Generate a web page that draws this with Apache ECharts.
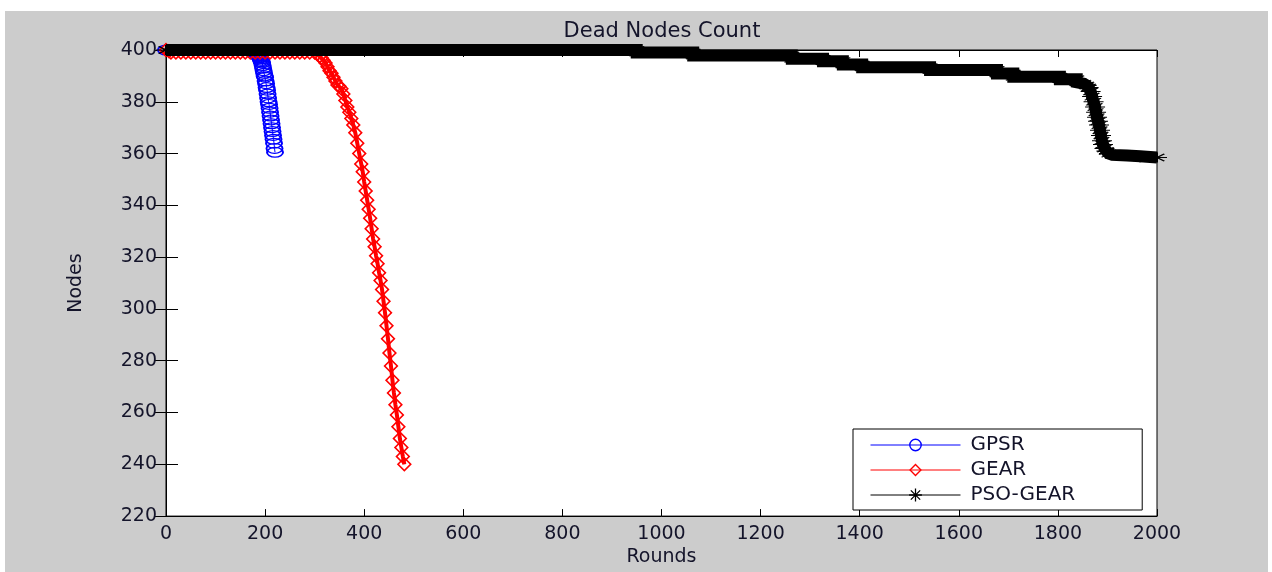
<!DOCTYPE html>
<html>
<head>
<meta charset="utf-8">
<script src="https://cdn.jsdelivr.net/npm/echarts@6/dist/echarts.min.js"></script>
<style>
  html, body { margin: 0; padding: 0; background: #fff; }
  .frame { position: absolute; left: 5px; top: 11px; right: 4px; bottom: 0; background: #cccccc; }
  #chart { position: absolute; left: 0; top: 0; width: 1272px; height: 572px; }
</style>
</head>
<body>
<div class="frame"></div>
<div id="chart"></div>
<script>
// tick labels
const xTicks = [0, 200, 400, 600, 800, 1000, 1200, 1400, 1600, 1800, 2000]
const yTicks = [220, 240, 260, 280, 300, 320, 340, 360, 380, 400]

// GPSR (blue circles)
const gpsrRounds = [0, 40, 80, 120, 160, 176, 182, 184, 185, 186, 187, 188, 189, 190, 191, 192, 193, 194, 195, 196, 197, 198, 199, 200,
  201, 202, 203, 204, 205, 206, 207, 208, 209, 210, 211, 212, 213, 214, 215, 216, 217, 218, 219, 220]
const gpsrNodes = [400, 400, 400, 400, 400, 399, 398.7, 398.5, 398.3, 398, 397.8, 397.5, 397.2, 397, 396.5, 396, 395.5, 395, 394, 393, 392, 391, 390, 389.5,
  388, 387, 385.5, 384.5, 383, 381.5, 380, 379, 377.5, 376, 374.5, 373, 371.5, 370, 368.5, 367, 365.5, 364, 362, 360.5]

// GEAR (red diamonds)
const gearRounds = [0, 6, 10, 20, 30, 40, 50, 60, 70, 80, 90, 100, 110, 120, 130, 140, 150, 160, 170, 180, 190, 200,
  210, 220, 230, 240, 250, 260, 270, 280, 290, 300, 305, 310, 314, 318, 322, 326, 330, 334, 338, 342, 346, 350, 354,
  358, 362, 366, 370, 374, 378, 382, 386, 390, 394, 397, 400, 403, 406, 409, 412, 415, 418, 421, 424, 427, 430, 433,
  436, 439, 442, 445, 448, 451, 454, 457, 460, 463, 466, 469, 472, 475, 478, 481]
const gearNodes = [400, 399.5, 399, 399, 399, 399, 399, 399, 399, 399, 399, 399, 399, 399, 399, 399, 399, 399, 399, 399, 399, 399,
  399, 399, 399, 399, 399, 399, 399, 399, 399, 399, 398.5, 397.5, 397, 396, 395, 393.5, 392, 391, 389.5, 388, 386.5, 386, 385,
  383, 380.5, 378, 376, 373.5, 371, 368, 364, 360, 356, 353, 349, 345.5, 342, 338.5, 335, 331, 327, 324, 320.5, 317.5, 314, 311,
  307.5, 303, 298.5, 293.5, 288.5, 283, 278, 272.5, 267.5, 263, 259, 254.5, 250, 246.5, 243, 240]

// PSO-GEAR (black asterisks)
const psoRounds = [0, 950, 950, 1064, 1064, 1263, 1263, 1326, 1326, 1366, 1366, 1405, 1405, 1542, 1542, 1677, 1677, 1710, 1710,
  1804, 1804, 1838, 1838, 1852, 1858, 1862, 1866, 1869, 1872, 1875, 1877, 1879, 1881, 1883, 1885, 1887, 1889, 1891, 1894,
  1898, 1903, 1910, 1940, 1966, 1966, 2000]
const psoNodes = [400, 400, 399, 399, 397.9, 397.9, 396.6, 396.6, 395.7, 395.7, 394.4, 394.4, 393.3, 393.3, 392.3, 392.3, 390.9, 390.9, 389.7,
  389.7, 388.7, 388.7, 387.5, 387, 386.3, 385.5, 384, 382, 380, 378, 376, 374, 372.5, 371, 369, 367, 365, 363.5, 362,
  361, 360, 359.5, 359.3, 359, 358.6, 358.5]

const font = 'DejaVu Sans'
const txt = '#14142a'

// hollow marker shapes (rings, so overlapping marks show through)
const ringCircle = 'path://M0,5 A5,5 0 1,1 10,5 A5,5 0 1,1 0,5 Z M1.1,5 A3.9,3.9 0 1,0 8.9,5 A3.9,3.9 0 1,0 1.1,5 Z'
const ringDiamond = 'path://M5,0 L10,5 L5,10 L0,5 Z M5,1.5 L1.5,5 L5,8.5 L8.5,5 Z'
const asterisk = 'path://M0,4.5 L10,4.5 L10,5.5 L0,5.5 Z M4.5,0 L5.5,0 L5.5,10 L4.5,10 Z M1,1.7 L1.7,1 L9,8.3 L8.3,9 Z M1,8.3 L8.3,1 L9,1.7 L1.7,9 Z'

function pairs(xs, ys) {
  return xs.map((x, i) => [x, ys[i]])
}

let chart = echarts.init(document.getElementById('chart'))

let axisCommon = {
  axisLine: { show: true, lineStyle: { color: '#000', width: 1 } },
  splitLine: { show: false },
}

let option = {
  animation: false,
  backgroundColor: 'transparent',
  title: {
    text: 'Dead Nodes Count',
    left: 657,
    top: 16,
    textAlign: 'center',
    textStyle: { fontFamily: font, fontSize: 21, fontWeight: 'normal', color: txt },
  },
  grid: {
    left: 166,
    top: 50,
    width: 991,
    height: 468,
    show: true,
    backgroundColor: '#fff',
    borderColor: '#000',
    borderWidth: 1,
  },
  legend: {
    orient: 'vertical',
    left: 853,
    top: 429,
    padding: [6, 67, 5, 17],
    itemWidth: 90,
    itemHeight: 16,
    itemGap: 5,
    backgroundColor: '#fff',
    borderColor: '#000',
    borderWidth: 1,
    borderRadius: 0,
    lineStyle: { width: 1 },
    formatter: (name) => '{t|' + name + '}',
    textStyle: {
      fontFamily: font,
      fontSize: 20,
      color: txt,
      rich: { t: { fontFamily: font, fontSize: 20, lineHeight: 22, color: txt, padding: [0, 0, 0, 5] } },
    },
    data: ['GPSR', 'GEAR', 'PSO-GEAR'],
  },
  xAxis: [
    {
      type: 'value',
      min: 0,
      max: 2000,
      interval: 200,
      ...axisCommon,
      axisTick: { show: true, inside: true, length: 7, lineStyle: { color: '#000' } },
      axisLabel: {
        margin: 8,
        fontFamily: font,
        fontSize: 19,
        color: txt,
        formatter: (v) => (xTicks.includes(v) ? String(v) : ''),
      },
      name: 'Rounds',
      nameLocation: 'middle',
      nameGap: 29,
      nameTextStyle: { fontFamily: font, fontSize: 19, color: txt },
    },
    {
      type: 'value',
      position: 'top',
      min: 0,
      max: 2000,
      interval: 200,
      ...axisCommon,
      axisTick: { show: true, inside: true, length: 7, lineStyle: { color: '#000' } },
      axisLabel: { show: false },
    },
  ],
  yAxis: [
    {
      type: 'value',
      min: 220,
      max: 400,
      interval: 20,
      ...axisCommon,
      axisTick: { show: true, inside: true, length: 12, lineStyle: { color: '#000' } },
      axisLabel: {
        margin: 9,
        fontFamily: font,
        fontSize: 19,
        color: txt,
        formatter: (v) => (yTicks.includes(v) ? String(v) : ''),
      },
      name: 'Nodes',
      nameLocation: 'middle',
      nameGap: 80,
      nameRotate: 90,
      nameTextStyle: { fontFamily: font, fontSize: 19, color: txt },
    },
    {
      type: 'value',
      position: 'right',
      min: 220,
      max: 400,
      interval: 20,
      ...axisCommon,
      axisTick: { show: true, inside: true, length: 12, lineStyle: { color: '#000' } },
      axisLabel: { show: false },
    },
  ],
  series: [
    {
      name: 'GPSR',
      type: 'line',
      z: 3,
      clip: false,
      symbol: ringCircle,
      symbolSize: [18, 11],
      showAllSymbol: true,
      lineStyle: { color: '#0000ff', width: 1 },
      itemStyle: { color: '#0000ff' },
      data: pairs(gpsrRounds, gpsrNodes),
    },
    {
      name: 'GEAR',
      type: 'line',
      z: 4,
      clip: false,
      symbol: ringDiamond,
      symbolSize: [15, 15],
      showAllSymbol: true,
      lineStyle: { color: '#ff0000', width: 4 },
      itemStyle: { color: '#ff0000' },
      data: pairs(gearRounds, gearNodes),
    },
    {
      name: 'PSO-GEAR',
      type: 'line',
      z: 5,
      clip: false,
      symbol: asterisk,
      symbolSize: [20, 10],
      showAllSymbol: true,
      lineStyle: { color: '#000', width: 12, join: 'miter' },
      itemStyle: { color: '#000' },
      data: pairs(psoRounds, psoNodes),
    },
  ],
}

chart.setOption(option)
</script>
</body>
</html>
